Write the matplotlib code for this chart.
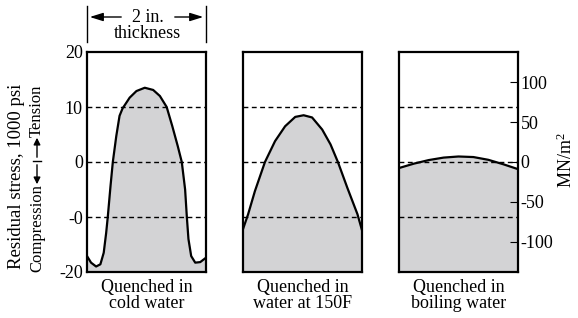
import matplotlib
matplotlib.use("Agg")
import matplotlib.pyplot as plt

plt.rcParams['font.family'] = ['Liberation Serif', 'DejaVu Serif']
plt.rcParams['axes.unicode_minus'] = False
plt.rcParams['mathtext.fontset'] = 'custom'
plt.rcParams['mathtext.rm'] = 'Liberation Serif'
plt.rcParams['mathtext.it'] = 'Liberation Serif:italic'

# ---- data (position across 2 in. thickness, in., vs residual stress, ksi) ----
cold_x = [-1.0, -0.932, -0.847, -0.775, -0.719, -0.678, -0.651, -0.605, -0.566,
          -0.508, -0.453, -0.40, -0.368, -0.283, -0.169, -0.029, 0.112, 0.225,
          0.339, 0.434, 0.525, 0.593, 0.649, 0.678, 0.705, 0.751, 0.819, 0.903, 1.0]
cold_y = [-17.1, -18.3, -19.0, -18.6, -16.5, -12.9, -10.0, -4.4, 0.0,
          4.7, 8.4, 9.8, 10.3, 11.7, 12.9, 13.5, 13.1, 12.0,
          10.0, 6.5, 2.9, 0.0, -5.0, -10.0, -14.0, -17.1, -18.3, -18.2, -17.4]

warm_x = [-1.0, -0.914, -0.8, -0.631, -0.461, -0.292, -0.122, 0.019, 0.161,
          0.331, 0.471, 0.595, 0.754, 0.924, 1.0]
warm_y = [-12.2, -9.5, -5.3, 0.0, 3.8, 6.5, 8.2, 8.5, 8.1,
          5.9, 3.2, 0.0, -4.7, -9.5, -12.4]

boil_x = [-1.0, -0.75, -0.5, -0.25, 0.0, 0.25, 0.5, 0.75, 1.0]
boil_y = [-1.1, -0.3, 0.35, 0.8, 1.0, 0.9, 0.4, -0.4, -1.3]

panel_titles = ["Quenched in\ncold water", "Quenched in\nwater at 150F",
                "Quenched in\nboiling water"]
psi_ticks = [-20, -10, 0, 10, 20]
psi_ticklabels = ["-20", "-0", "0", "10", "20"]
ref_lines = [-10, 0, 10]
mpa_ticks = [-100, -50, 0, 50, 100]
mpa_ticklabels = ["-100", "-50", "0", "50", "100"]
KSI_TO_MPA = 6.895

W, H = 578, 318
fig = plt.figure(figsize=(W / 100, H / 100), dpi=100)

def fx(px):
    return px / W

def fy(py):
    return 1 - py / H

FS = 13
fill_col = '#d3d3d5'
lefts = [87, 243, 399]
axes = []
series = [(cold_x, cold_y), (warm_x, warm_y), (boil_x, boil_y)]
for i, (left, (xs, ys)) in enumerate(zip(lefts, series)):
    ax = fig.add_axes([fx(left), fy(272), 119 / W, 220 / H])
    ax.set_xlim(-1, 1)
    ax.set_ylim(-20, 20)
    ax.fill_between(xs, ys, -20, color=fill_col, lw=0, zorder=1)
    ax.plot(xs, ys, color='black', lw=1.6, zorder=3, solid_joinstyle='round')
    for r in ref_lines:
        ax.axhline(r, color='black', lw=1.0, ls=(0, (3.5, 2.5)), zorder=2)
    for s in ax.spines.values():
        s.set_linewidth(1.6)
    ax.set_xticks([])
    if i == 0:
        ax.set_yticks(psi_ticks)
        ax.set_yticklabels(psi_ticklabels, fontsize=FS)
        ax.tick_params(axis='y', length=0, pad=3)
    else:
        ax.set_yticks([])
    ax.text(0.5, -0.03, panel_titles[i], transform=ax.transAxes, ha='center',
            va='top', fontsize=FS, linespacing=0.95)
    axes.append(ax)

# right axis in MN/m^2
ax3 = axes[2]
tw = ax3.twinx()
tw.set_ylim(-20 * KSI_TO_MPA, 20 * KSI_TO_MPA)
tw.set_yticks(mpa_ticks)
tw.set_yticklabels(mpa_ticklabels, fontsize=FS)
tw.tick_params(axis='y', direction='in', length=6, width=0.8, pad=2)
for s in tw.spines.values():
    s.set_visible(False)
fig.text(fx(566), fy(160), "MN/m$^2$", rotation=90, ha='center', va='center', fontsize=FS)

# left axis labels
fig.text(fx(17), fy(176), "Residual stress, 1000 psi", rotation=90, ha='center',
         va='center', fontsize=13.5)
fig.text(fx(37), fy(228), "Compression", rotation=90, ha='center', va='center', fontsize=12)
fig.text(fx(37), fy(111), "Tension", rotation=90, ha='center', va='center', fontsize=12)
fig.add_artist(matplotlib.patches.FancyArrowPatch(
    (fx(37), fy(162)), (fx(37), fy(187)), transform=fig.transFigure,
    arrowstyle='-|>,head_length=4,head_width=2', lw=1.0, color='black', mutation_scale=1))
fig.add_artist(matplotlib.patches.FancyArrowPatch(
    (fx(37), fy(160)), (fx(37), fy(135)), transform=fig.transFigure,
    arrowstyle='-|>,head_length=4,head_width=2', lw=1.0, color='black', mutation_scale=1))
fig.add_artist(matplotlib.lines.Line2D([fx(33), fx(41)], [fy(161), fy(161)], color='black', lw=1.0))

# thickness dimension
for px in (87, 206):
    fig.add_artist(matplotlib.lines.Line2D([fx(px), fx(px)], [fy(6), fy(42)], color='black', lw=1.0))
fig.add_artist(matplotlib.patches.FancyArrowPatch(
    (fx(124), fy(17)), (fx(87), fy(17)), transform=fig.transFigure,
    arrowstyle='-|>,head_length=8,head_width=2.5', lw=1.0, color='black', mutation_scale=1))
fig.add_artist(matplotlib.patches.FancyArrowPatch(
    (fx(172), fy(17)), (fx(206), fy(17)), transform=fig.transFigure,
    arrowstyle='-|>,head_length=8,head_width=2.5', lw=1.0, color='black', mutation_scale=1))
fig.text(fx(148), fy(17), "2 in.", ha='center', va='center', fontsize=FS)
fig.text(fx(147), fy(33), "thickness", ha='center', va='center', fontsize=FS)

fig.savefig("out.png", dpi=100)
